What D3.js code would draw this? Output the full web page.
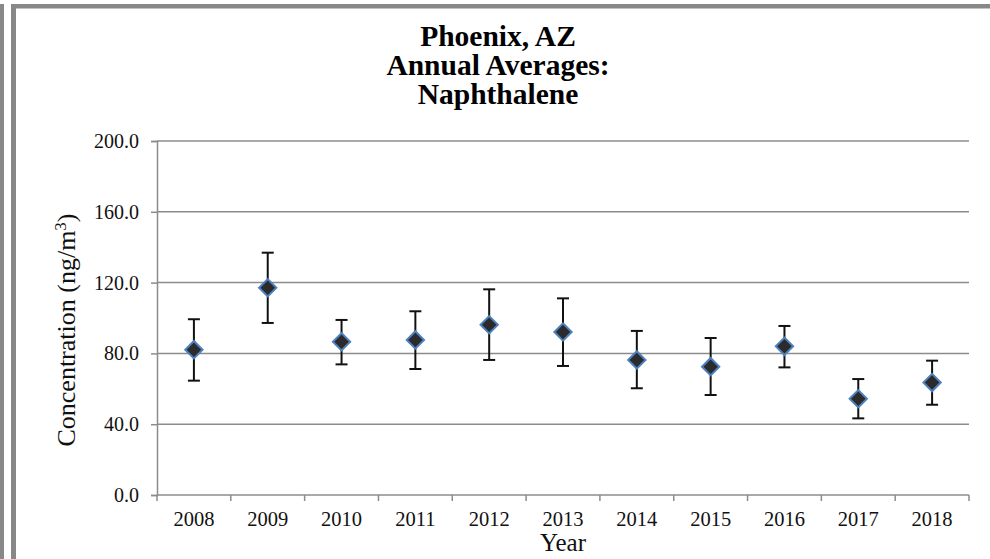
<!DOCTYPE html>
<html>
<head>
<meta charset="utf-8">
<script src="https://cdn.jsdelivr.net/npm/d3@7"></script>
<style>
    html, body { margin: 0; background: #fff; overflow: hidden; }
    svg { display: block; font-family: "Liberation Serif", "Times New Roman", serif; }
</style>
</head>
<body>
<div id="chart"></div>
<script>
// Chart data
const years = ["2008", "2009", "2010", "2011", "2012", "2013", "2014", "2015", "2016", "2017", "2018"];
const averages = [82.1, 117.1, 86.6, 87.6, 96.2, 92.1, 76.3, 72.5, 84.0, 54.4, 63.5];
const upperBounds = [99.3, 136.9, 98.9, 103.8, 116.2, 111.1, 92.7, 88.7, 95.5, 65.5, 75.9];
const lowerBounds = [64.6, 97.2, 73.8, 71.2, 76.3, 72.9, 60.3, 56.5, 72.1, 43.3, 51.0];
const yTicks = [0, 40, 80, 120, 160, 200];
const titleLines = ["Phoenix, AZ", "Annual Averages:", "Naphthalene"];

const width = 990;
const height = 559;
const margin = { top: 141, right: 21, bottom: 64, left: 157 };
const gridColor = "#8c8c8c";

const svg = d3.select("#chart").append("svg")
    .attr("width", width)
    .attr("height", height);

// Frame bars (left edge and chart border)
svg.append("rect").attr("x", 0).attr("y", 4).attr("width", 4).attr("height", height).attr("fill", "#888");
svg.append("rect").attr("x", 11).attr("y", 4).attr("width", 5).attr("height", height).attr("fill", "#888");
svg.append("rect").attr("x", 11).attr("y", 4).attr("width", width - 11).attr("height", 4.5).attr("fill", "#888");

// Scales
const x = d3.scaleBand()
    .domain(years)
    .range([margin.left, width - margin.right]);

const y = d3.scaleLinear()
    .domain([0, 200])
    .range([height - margin.bottom, margin.top]);

// Gridlines
svg.append("g")
    .selectAll("line")
    .data(yTicks)
    .join("line")
    .attr("x1", margin.left)
    .attr("x2", width - margin.right)
    .attr("y1", d => y(d))
    .attr("y2", d => y(d))
    .attr("stroke", gridColor)
    .attr("stroke-width", 1.5);

// Y axis
const yAxis = svg.append("g")
    .attr("transform", `translate(${margin.left},0)`)
    .call(d3.axisLeft(y).tickValues(yTicks).tickFormat(d3.format(".1f")).tickSize(6).tickPadding(12));
yAxis.select(".domain").attr("stroke", gridColor).attr("stroke-width", 1.5);
yAxis.selectAll(".tick line").attr("stroke", gridColor).attr("stroke-width", 1.5);
yAxis.selectAll("text")
    .attr("font-family", "Liberation Serif")
    .attr("font-size", 20)
    .attr("fill", "#111");

// X axis, ticks sit on the band edges
const xAxis = svg.append("g")
    .attr("transform", `translate(0,${y(0)})`)
    .call(d3.axisBottom(x).tickSize(0).tickPadding(16));
xAxis.select(".domain").remove();
xAxis.selectAll("text")
    .attr("font-family", "Liberation Serif")
    .attr("font-size", 20.5)
    .attr("fill", "#111");

const edges = years.map(d => x(d)).concat([x(years[years.length - 1]) + x.bandwidth()]);
svg.append("g")
    .selectAll("line")
    .data(edges)
    .join("line")
    .attr("x1", d => d)
    .attr("x2", d => d)
    .attr("y1", y(0))
    .attr("y2", y(0) + 6)
    .attr("stroke", gridColor)
    .attr("stroke-width", 1.5);

// Error bars
const capHalf = 6;
const bars = svg.append("g")
    .selectAll("g")
    .data(years)
    .join("g")
    .attr("stroke", "#111")
    .attr("stroke-width", 2);

bars.append("line")
    .attr("x1", d => x(d) + x.bandwidth() / 2)
    .attr("x2", d => x(d) + x.bandwidth() / 2)
    .attr("y1", (d, i) => y(upperBounds[i]))
    .attr("y2", (d, i) => y(lowerBounds[i]));
bars.append("line")
    .attr("x1", d => x(d) + x.bandwidth() / 2 - capHalf)
    .attr("x2", d => x(d) + x.bandwidth() / 2 + capHalf)
    .attr("y1", (d, i) => y(upperBounds[i]))
    .attr("y2", (d, i) => y(upperBounds[i]));
bars.append("line")
    .attr("x1", d => x(d) + x.bandwidth() / 2 - capHalf)
    .attr("x2", d => x(d) + x.bandwidth() / 2 + capHalf)
    .attr("y1", (d, i) => y(lowerBounds[i]))
    .attr("y2", (d, i) => y(lowerBounds[i]));

// Diamond markers
svg.append("g")
    .selectAll("path")
    .data(years)
    .join("path")
    .attr("d", d3.symbol().type(d3.symbolSquare).size(150))
    .attr("transform", (d, i) => `translate(${x(d) + x.bandwidth() / 2},${y(averages[i])}) rotate(45)`)
    .attr("fill", "#2b2b2e")
    .attr("stroke", "#4f81bd")
    .attr("stroke-width", 2);

// Title
svg.append("text")
    .attr("text-anchor", "middle")
    .attr("font-family", "Liberation Serif")
    .attr("font-weight", "bold")
    .attr("font-size", 29.5)
    .attr("fill", "#000")
    .selectAll("tspan")
    .data(titleLines)
    .join("tspan")
    .attr("x", 498)
    .attr("y", (d, i) => 46 + i * 29)
    .text(d => d);

// Axis titles
svg.append("text")
    .attr("x", (margin.left + width - margin.right) / 2)
    .attr("y", 551)
    .attr("text-anchor", "middle")
    .attr("font-family", "Liberation Serif")
    .attr("font-size", 25)
    .attr("fill", "#111")
    .text("Year");

const yTitle = svg.append("text")
    .attr("transform", "translate(75,330) rotate(-90)")
    .attr("text-anchor", "middle")
    .attr("font-family", "Liberation Serif")
    .attr("font-size", 26)
    .attr("fill", "#111");
yTitle.append("tspan").text("Concentration (ng/m");
yTitle.append("tspan").attr("baseline-shift", "super").attr("font-size", 17).text("3");
yTitle.append("tspan").text(")");
</script>
</body>
</html>
